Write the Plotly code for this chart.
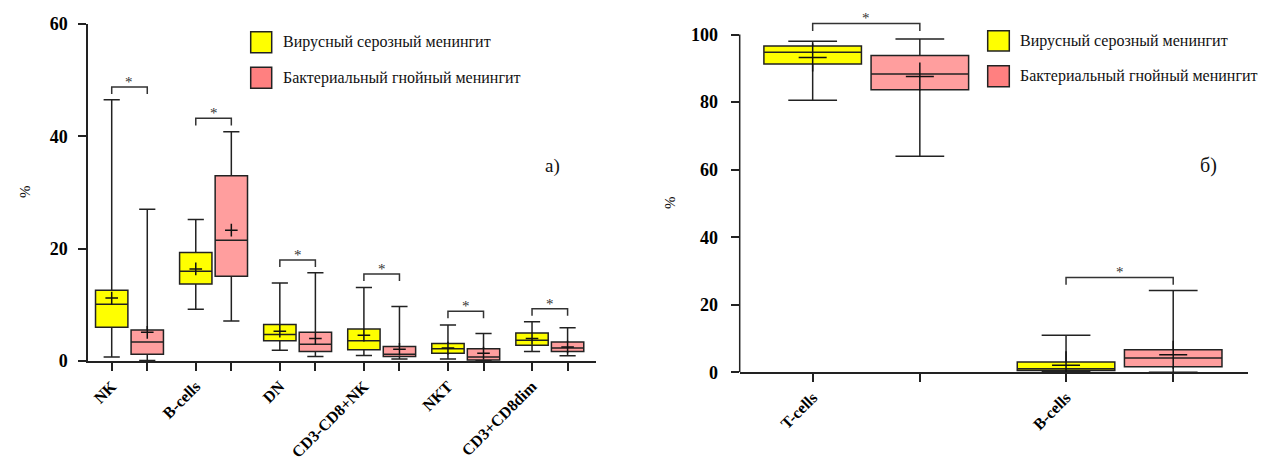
import plotly.graph_objects as go

W, H = 1262, 461

# ---------------- data (panel a) ----------------
cats_a = ["NK", "B-cells", "DN", "CD3-CD8+NK", "NKT", "CD3+CD8dim"]
# viral serous meningitis (yellow)
vir_a_low = [0.7, 9.2, 1.9, 1.0, 0.35, 1.7]
vir_a_q1 = [6.0, 13.7, 3.6, 2.0, 1.4, 2.8]
vir_a_med = [10.1, 16.0, 4.7, 3.6, 2.2, 3.7]
vir_a_q3 = [12.6, 19.3, 6.5, 5.7, 3.1, 5.0]
vir_a_high = [46.5, 25.2, 13.9, 13.1, 6.4, 7.0]
vir_a_mean = [11.2, 16.4, 5.3, 4.6, 2.3, 4.0]
# bacterial purulent meningitis (pink)
bac_a_low = [0.1, 7.1, 0.8, 0.35, 0.05, 0.95]
bac_a_q1 = [1.2, 15.1, 1.7, 0.8, 0.2, 1.7]
bac_a_med = [3.4, 21.5, 3.0, 1.2, 0.7, 2.3]
bac_a_q3 = [5.5, 33.0, 5.1, 2.6, 2.2, 3.4]
bac_a_high = [27.0, 40.8, 15.7, 9.7, 4.9, 5.9]
bac_a_mean = [5.1, 23.3, 4.0, 2.1, 1.4, 2.5]
sig_a = [48.8, 43.2, 18.0, 15.5, 8.85, 9.3]

# ---------------- data (panel б) ----------------
cats_b = ["T-cells", "B-cells"]
vir_b_low = [80.6, 0.1]
vir_b_q1 = [91.3, 0.5]
vir_b_med = [94.8, 1.07]
vir_b_q3 = [96.6, 3.05]
vir_b_high = [98.0, 11.0]
vir_b_mean = [93.2, 2.07]
bac_b_low = [64.0, 0.05]
bac_b_q1 = [83.7, 1.66]
bac_b_med = [88.3, 4.2]
bac_b_q3 = [93.8, 6.7]
bac_b_high = [98.7, 24.2]
bac_b_mean = [87.6, 5.2]
sig_b = [103.3, 28.1]

legend_names = ["Вирусный серозный менингит", "Бактериальный гнойный менингит"]

YELLOW = "#FFFF00"
PINK = "#FF9E9E"
PINK_LEG = "#FF8080"
LINE = "#222222"
FONT = "Liberation Serif"

OFF = 0.423   # offset of the second box in a pair (group units)
BW = 0.385    # box width (group units)

fig = go.Figure()


def add_panel(cats, vstats, bstats, sig, xa, ya, cross_size, drop):
    xs_y = [i for i in range(len(cats))]
    xs_p = [i + OFF for i in range(len(cats))]
    for xs, st, col in ((xs_y, vstats, YELLOW), (xs_p, bstats, PINK)):
        low, q1, med, q3, high, mean = st
        for i, x in enumerate(xs):
            fig.add_trace(go.Box(
                x=[x], q1=[q1[i]], median=[med[i]], q3=[q3[i]],
                lowerfence=[low[i]], upperfence=[high[i]],
                orientation="v", width=BW, whiskerwidth=0.5,
                fillcolor=col, line=dict(color=LINE, width=1.5),
                boxpoints=False, showlegend=False, hoverinfo="skip",
                xaxis=xa, yaxis=ya))
        fig.add_trace(go.Scatter(
            x=xs, y=mean, mode="markers",
            marker=dict(symbol="cross-thin", size=cross_size,
                        line=dict(color="#111111", width=1.5)),
            showlegend=False, hoverinfo="skip", xaxis=xa, yaxis=ya))
    # significance brackets
    for i, h in enumerate(sig):
        fig.add_trace(go.Scatter(
            x=[xs_y[i], xs_y[i], xs_p[i], xs_p[i]],
            y=[h - drop, h, h, h - drop], mode="lines",
            line=dict(color="#333333", width=1.5),
            showlegend=False, hoverinfo="skip", cliponaxis=False,
            xaxis=xa, yaxis=ya))
        fig.add_annotation(x=(xs_y[i] + xs_p[i]) / 2, y=h, xref=xa, yref=ya,
                           text="*", showarrow=False, yanchor="bottom", yshift=-5,
                           font=dict(family=FONT, size=15, color="#333333"))
    return xs_y, xs_p


ya_, pa_ = add_panel(cats_a,
                     (vir_a_low, vir_a_q1, vir_a_med, vir_a_q3, vir_a_high, vir_a_mean),
                     (bac_a_low, bac_a_q1, bac_a_med, bac_a_q3, bac_a_high, bac_a_mean),
                     sig_a, "x", "y", 9, 1.25)
yb_, pb_ = add_panel(cats_b,
                     (vir_b_low, vir_b_q1, vir_b_med, vir_b_q3, vir_b_high, vir_b_mean),
                     (bac_b_low, bac_b_q1, bac_b_med, bac_b_q3, bac_b_high, bac_b_mean),
                     sig_b, "x2", "y2", 20, 2.2)

tickfont = dict(family=FONT, size=18, color="black", weight="bold")
xtickfont = dict(family=FONT, size=16, color="black", weight="bold")


def xticks(ys, ps, cats):
    vals, txt = [], []
    for i, c in enumerate(cats):
        vals += [ys[i], ps[i]]
        txt += [c, ""]
    return vals, txt


xv_a, xt_a = xticks(ya_, pa_, cats_a)
xv_b, xt_b = xticks(yb_, pb_, cats_b)

axis_common = dict(showgrid=False, zeroline=False, ticks="outside", ticklen=8,
                   tickwidth=1.5, tickcolor=LINE, linecolor=LINE, linewidth=1.5,
                   automargin=False)

fig.update_layout(
    template="none",
    width=W, height=H, margin=dict(l=0, r=0, t=0, b=0),
    paper_bgcolor="white", plot_bgcolor="white", boxmode="overlay",
    xaxis=dict(domain=[88 / W, 596 / W], range=[-0.282, 5.761],
               tickvals=xv_a, ticktext=xt_a, tickangle=-45, tickfont=xtickfont,
               ticklabelstandoff=0, showline=True, anchor="y", **axis_common),
    yaxis=dict(domain=[1 - 361 / H, 1 - 24 / H], range=[0, 60],
               tickvals=[0, 20, 40, 60], tickfont=tickfont, showline=True,
               ticklabelstandoff=7, anchor="x", **axis_common),
    xaxis2=dict(domain=[739.7 / W, 1247.7 / W], range=[-0.288, 1.717],
                tickvals=xv_b, ticktext=xt_b, tickangle=-45, tickfont=xtickfont,
                ticklabelstandoff=0, showline=True, anchor="y2", **axis_common),
    yaxis2=dict(domain=[1 - 372.3 / H, 1 - 7.6 / H], range=[0, 108],
                tickvals=[0, 20, 40, 60, 80, 100], tickfont=tickfont,
                showline=False, ticklabelstandoff=9, anchor="x2", **axis_common),
)

# y-axis line of panel б (only up to 100)
fig.add_shape(type="line", xref="x2 domain", yref="y2", x0=0, x1=0, y0=0, y1=100,
              line=dict(color=LINE, width=1.5))

# legends (squares + text)
def legend(x0, x1, rows, tx):
    for (ya0, ya1), col, name in zip(rows, (YELLOW, PINK_LEG), legend_names):
        fig.add_shape(type="rect", xref="paper", yref="paper",
                      x0=x0 / W, x1=x1 / W, y0=1 - ya1 / H, y1=1 - ya0 / H,
                      fillcolor=col, line=dict(color=LINE, width=1.5))
        fig.add_annotation(xref="paper", yref="paper", x=tx / W,
                           y=1 - (ya0 + ya1) / 2 / H, text=name, showarrow=False,
                           xanchor="left", yanchor="middle",
                           font=dict(family=FONT, size=16, color="#111111"))


legend(250.7, 271.7, [(31.7, 52.7), (67.3, 88.3)], 281)
legend(987.7, 1009.3, [(30.7, 51.0), (65.7, 86.7)], 1018)

# panel labels and y titles
fig.add_annotation(xref="paper", yref="paper", x=552 / W, y=1 - 152.7 / H, text="a)",
                   showarrow=False, font=dict(family=FONT, size=19, color="#111111"))
fig.add_annotation(xref="paper", yref="paper", x=1198 / W, y=1 - 165 / H, text="б)",
                   xanchor="left", showarrow=False,
                   font=dict(family=FONT, size=20, color="#111111"))
fig.add_annotation(xref="paper", yref="paper", x=15 / W, y=1 - 192 / H, text="%",
                   textangle=-90, showarrow=False,
                   font=dict(family=FONT, size=15, color="#111111"))
fig.add_annotation(xref="paper", yref="paper", x=670 / W, y=1 - 203 / H, text="%",
                   textangle=-90, showarrow=False,
                   font=dict(family=FONT, size=15, color="#111111"))

fig.write_html("out.html")
